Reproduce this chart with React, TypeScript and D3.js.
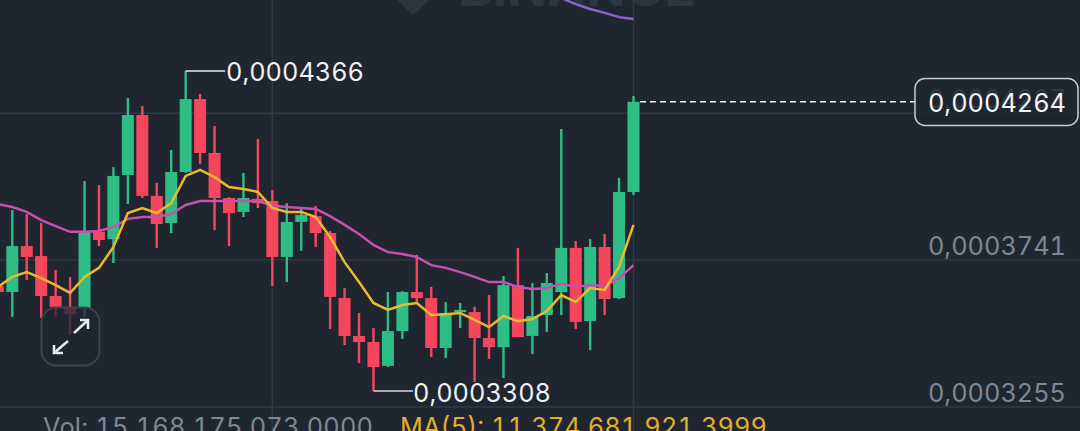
import React from "react";
import * as d3 from "d3";

const WIDTH = 1080;
const HEIGHT = 431;

// Candles, index -1 to 43, in units of 0.0000001
const candleIndex = d3.range(-1, 44);
const opens = [3655,3635,3787,3754,3622,3586,3582,3834,3810,4022,4220,3953,3863,4032,4273,4095,3946,3900,3943,3936,3751,3867,3886,3830,3615,3490,3470,3391,3506,3635,3615,3450,3569,3569,3483,3453,3658,3490,3559,3635,3781,3539,3784,3615,3966];
const highs = [3700,3906,3893,3863,3708,3685,4002,3989,4048,4277,4250,3996,4105,4366,4290,4184,3949,4029,4141,3972,3929,3913,3920,3837,3648,3566,3516,3635,3638,3758,3652,3602,3599,3586,3625,3688,3781,3665,3698,4174,3804,3810,3827,4012,4283];
const lows = [3610,3553,3675,3549,3553,3493,3553,3787,3731,3926,3946,3781,3830,4029,4058,3840,3787,3883,3913,3655,3668,3771,3784,3513,3460,3400,3308,3387,3480,3599,3420,3417,3516,3338,3414,3351,3486,3430,3503,3559,3513,3443,3559,3612,3956];
const closes = [3635,3787,3751,3622,3586,3562,3834,3807,4019,4220,3953,3860,4032,4273,4095,3946,3896,3946,3929,3751,3867,3890,3830,3619,3490,3470,3387,3506,3635,3615,3450,3566,3576,3483,3453,3658,3486,3556,3665,3781,3536,3784,3612,3966,4264];
const ma5 = [3652,3685,3701,3681,3658,3632,3685,3715,3784,3896,3913,3896,3929,4019,4039,4015,3982,3976,3966,3913,3900,3900,3883,3817,3734,3668,3599,3576,3592,3599,3559,3562,3566,3543,3519,3556,3539,3546,3572,3625,3602,3648,3642,3718,3857];
const ma10 = [3926,3916,3900,3873,3853,3834,3834,3837,3850,3877,3883,3883,3893,3923,3936,3936,3936,3936,3936,3920,3916,3913,3910,3886,3857,3827,3791,3767,3761,3751,3724,3715,3701,3685,3668,3668,3652,3645,3648,3662,3652,3658,3655,3681,3724];
const ma30Index = [38, 39, 40, 41, 42, 43];
const ma30 = [4607, 4587, 4571, 4558, 4544, 4538];

const gridPrices = [4226.5, 3741, 3255];
const gridLabels = ["0,0004227", "0,0003741", "0,0003255"];
const verticalIndex = [18, 43];

const highLabel = "0,0004366";
const lowLabel = "0,0003308";
const lastLabel = "0,0004264";
const volText = "Vol: 15.168.175.073,0000";
const volMaText = "MA(5): 11.374.681.921,3999";

const BG = "#1f2630";
const UP = "#2ebd85";
const DOWN = "#f6465d";
const GRID = "#323944";
const FONT = "Inter, Lato, sans-serif";
const FS = 25.3;
const tnum = { fontVariantNumeric: "tabular-nums" } as const;

const x = d3.scaleLinear().domain([0, 43]).range([12.3, 633.5]);
const y = d3.scaleLinear().domain([3255, 3741]).range([407, 260]);

const lineGen = (xs: number[], vs: number[]) =>
  d3.line<number>()
    .x((_, i) => x(xs[i]))
    .y((v) => y(v))(vs) as string;

export default function App() {
  const bodyW = 12;
  const highI = highs.indexOf(d3.max(highs) as number);
  const lowI = lows.indexOf(d3.min(lows) as number);
  const lastI = closes.length - 1;
  return (
    <svg
      width={WIDTH}
      height={HEIGHT}
      style={{ position: "absolute", left: 0, top: 0, background: BG, display: "block" }}
    >
      {/* watermark */}
      <g fill="#2d3540">
        <path d="M413,15.5 L431,-2.5 L413,-20.5 L395,-2.5 Z" />
        <text x={458} y={6} fontFamily={FONT} fontWeight={700} fontSize={44} textLength={238} lengthAdjust="spacingAndGlyphs">BINANCE</text>
      </g>

      {/* grid */}
      {gridPrices.map((p) => (
        <line key={p} x1={0} x2={WIDTH} y1={y(p)} y2={y(p)} stroke={GRID} strokeWidth={1.5} />
      ))}
      {verticalIndex.map((i) => (
        <line key={i} x1={x(i)} x2={x(i)} y1={0} y2={HEIGHT} stroke={GRID} strokeWidth={1.5} />
      ))}

      {/* right axis labels */}
      {gridLabels.map((l, i) => (
        <text key={l} x={1066} y={y(gridPrices[i]) - 5} textAnchor="end" fontFamily={FONT} fontSize={FS} fill="#7f8791" style={tnum}>{l}</text>
      ))}

      {/* candles */}
      {candleIndex.map((idx, i) => {
        const up = closes[i] >= opens[i];
        const c = up ? UP : DOWN;
        const top = y(Math.max(opens[i], closes[i]));
        const bot = y(Math.min(opens[i], closes[i]));
        return (
          <g key={idx}>
            <line x1={x(idx)} x2={x(idx)} y1={y(highs[i])} y2={y(lows[i])} stroke={c} strokeWidth={2.4} />
            <rect x={x(idx) - bodyW / 2} y={top} width={bodyW} height={Math.max(bot - top, 1.5)} fill={c} />
          </g>
        );
      })}

      {/* moving averages */}
      <path d={lineGen(ma30Index, ma30)} fill="none" stroke="#8f63c9" strokeWidth={2.5} />
      <path d={lineGen(candleIndex, ma10)} fill="none" stroke="#c94fb0" strokeWidth={2.5} />
      <path d={lineGen(candleIndex, ma5)} fill="none" stroke="#edb92b" strokeWidth={2.5} />

      {/* extreme labels */}
      <line x1={x(candleIndex[highI])} x2={225} y1={y(highs[highI])} y2={y(highs[highI])} stroke="#e8eaed" strokeWidth={1.5} />
      <text x={226} y={81} fontFamily={FONT} fontSize={FS} fill="#f0f1f3" style={tnum}>{highLabel}</text>
      <line x1={x(candleIndex[lowI])} x2={413} y1={y(lows[lowI])} y2={y(lows[lowI])} stroke="#d5d7db" strokeWidth={1.5} />
      <text x={413} y={402} fontFamily={FONT} fontSize={FS} fill="#f0f1f3" style={tnum}>{lowLabel}</text>

      {/* last price */}
      <line x1={640} x2={915} y1={y(closes[lastI])} y2={y(closes[lastI])} stroke="#f0f1f3" strokeWidth={1.5} strokeDasharray="6 4" />
      <rect x={915} y={78.5} width={163} height={47} rx={10} fill={BG} fillOpacity={0.8} stroke="#c6cad0" strokeWidth={1.5} />
      <text x={1066} y={112} textAnchor="end" fontFamily={FONT} fontSize={FS} fill="#f4f5f6" style={tnum}>{lastLabel}</text>

      {/* expand button */}
      <rect x={41.5} y={307.5} width={58} height={58} rx={15} fill={BG} fillOpacity={0.75} stroke="#3b424d" strokeWidth={2} />
      <g fill="none" stroke="#e8eaed" strokeWidth={2.6}>
        <path d="M74,333 L87,321" />
        <path d="M80,320 L88,320 L88,329" />
        <path d="M68,341 L54,353" />
        <path d="M54,345 L54,353 L63,353" />
      </g>

      {/* volume strip */}
      <text x={43} y={436} fontFamily={FONT} fontSize={FS} fill="#7f8791" style={tnum} textLength={330} lengthAdjust="spacing">{volText}</text>
      <text x={400} y={436} fontFamily={FONT} fontSize={FS} fill="#e2ae2c" style={tnum} textLength={367} lengthAdjust="spacing">{volMaText}</text>
    </svg>
  );
}
